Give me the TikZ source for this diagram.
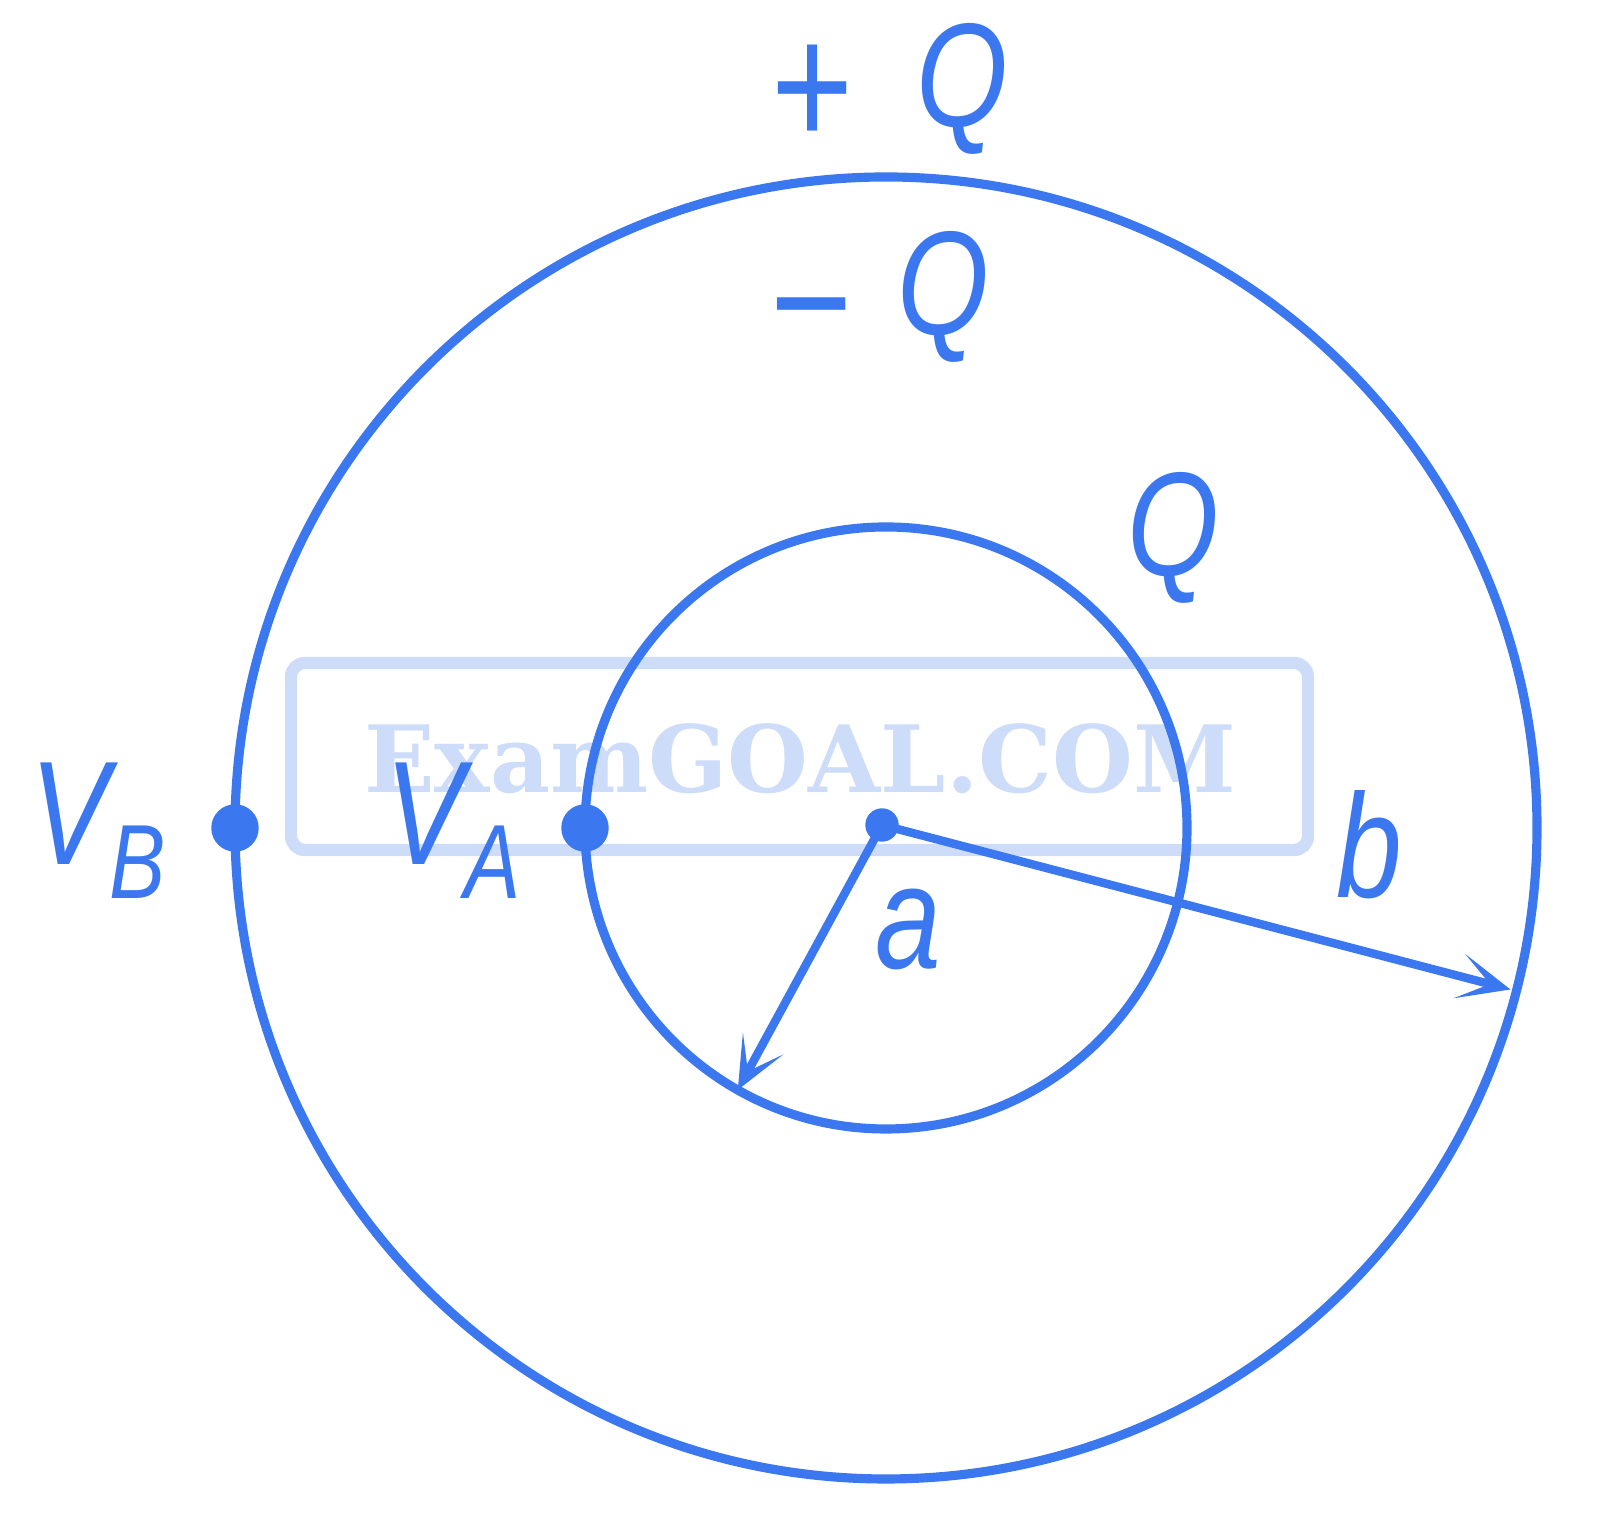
\documentclass[tikz,border=0pt]{standalone}
\usepackage{fontspec}
\newfontfamily\lab{Liberation Sans}[FakeStretch=0.8]
\newfontfamily\wmfont{DejaVu Serif}
\usetikzlibrary{arrows.meta,calc}
\definecolor{ink}{RGB}{59,120,240}
\definecolor{wmc}{RGB}{205,220,248}
\begin{document}
\begin{tikzpicture}[x=0.01cm,y=0.01cm,
  lbl/.style={text=ink,inner sep=0pt,font=\lab\itshape\fontsize{42}{42}\selectfont},
  ring/.style={draw=ink,line width=2.6pt},
  vec/.style={draw=ink,line width=2.4pt,-{Stealth[length=15pt,width=13pt,inset=9pt]}},
  bigdot/.style={circle,fill=ink,inner sep=0pt,minimum size=13.5pt},
  smalldot/.style={circle,fill=ink,inner sep=0pt,minimum size=9.5pt}]
\useasboundingbox (0,0) rectangle (1600,1516);
% watermark
\draw[wmc,line width=3.5pt,rounded corners=4pt] (291,666) rectangle (1308,853);
\node[text=wmc,inner sep=0pt] (wm) at (800,757) {\wmfont\bfseries\fontsize{26.4}{27}\selectfont ExamGOAL.COM};
% circles
\coordinate (C) at (886,688);
\draw[ring] (C) circle[radius=651];
\draw[ring] (C) circle[radius=301];
% points
\node[bigdot] (pB) at ($(C)+(180:651)$) {};
\node[bigdot] (pA) at ($(C)+(180:301)$) {};
\node[smalldot] (O) at (882,691) {};
\coordinate (ta) at ($(C)+(240.5:301)$);
\coordinate (tb) at ($(C)+(-14.5:645)$);
\draw[vec] (O.center) -- (ta);
\draw[vec] (O.center) -- (tb);
% labels
\node[lbl,anchor=base] (plusQ) at (890,1389) {\raisebox{-5.5pt}{\upshape\fontsize{50}{50}\selectfont +}\hspace{18pt}Q};
\node[lbl,anchor=base] (minusQ) at (880,1181) {\raisebox{-7.8pt}{\upshape\fontsize{50}{50}\selectfont −}\hspace{13pt}Q};
\node[lbl,anchor=base] (Qin) at (1173,940) {Q};
\node[lbl,anchor=base west] (VB) at (30,651) {V\raisebox{-9.4pt}{\fontsize{30}{30}\selectfont B}};
\node[lbl,anchor=base west] (VA) at (385,651) {V\raisebox{-9.4pt}{\fontsize{30}{30}\selectfont A}};
\node[lbl,anchor=base] (lb) at (1369,618) {b};
\node[lbl,anchor=base] (la) at (908,547) {a};
\end{tikzpicture}
\end{document}
